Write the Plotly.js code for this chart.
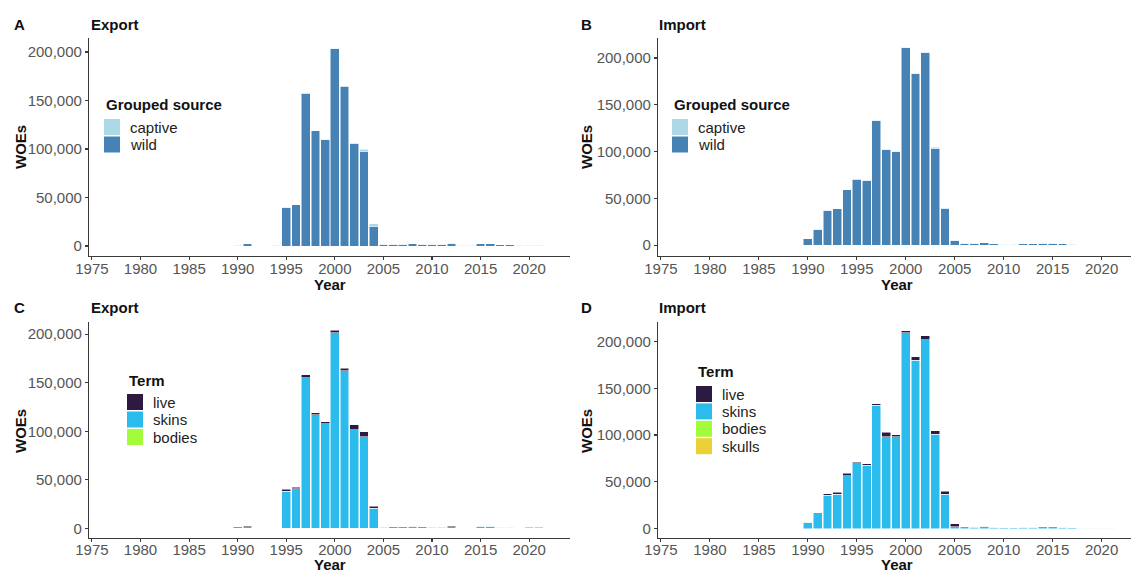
<!DOCTYPE html>
<html>
<head>
<meta charset="utf-8">
<script src="https://cdn.plot.ly/plotly-3.0.1.min.js"></script>
<style>html,body{margin:0;padding:0;background:#fff}</style>
</head>
<body>
<div id="chart" style="width:1131px;height:572px"></div>
<script>
// ---------- data ----------
const years = [1990,1991,1992,1993,1994,1995,1996,1997,1998,1999,2000,2001,2002,2003,2004,2005,2006,2007,2008,2009,2010,2011,2012,2013,2014,2015,2016,2017,2018,2019,2020,2021];

// Panel A: Export by grouped source
const exportWild    = [700,2300,100,100,600,39900,42300,157600,118600,109700,203300,164500,105500,97700,20600,1400,1700,1700,2100,1700,1300,1300,2400,400,400,2100,2100,1100,1100,400,700,700];
const exportCaptive = [300,200,200,200,100,300,300,400,300,300,500,500,1000,2000,2400,300,300,300,300,300,400,400,300,300,300,300,300,300,300,300,300,300];

// Panel B: Import by grouped source
const importWild    = [6800,16900,37200,38600,58900,70600,69200,133300,102400,99900,211000,183200,206000,103500,38900,5000,1900,1600,2300,1200,500,500,1200,1200,1900,1900,1200,800,100,50,50,50];
const importCaptive = [0,200,200,300,300,300,300,400,300,300,400,400,400,1000,1000,300,200,200,200,200,200,200,200,200,200,200,200,200,300,250,250,250];

// Panel C: Export by term
const exportLive   = [700,2000,100,100,100,1700,1700,2700,2000,2000,2400,2700,5100,5100,2000,200,200,200,200,400,400,400,700,400,400,200,200,300,300,300,400,400];
const exportSkins  = [300,500,200,200,600,38500,40900,155300,116900,108000,201400,162300,101400,94600,21000,1500,1800,1800,2200,1600,1300,1300,2000,300,300,2200,2200,1100,1100,400,600,600];
const exportBodies = [0,0,0,0,0,0,0,0,0,0,0,0,0,0,0,0,0,0,0,0,0,0,0,0,0,0,0,0,0,0,0,0];

// Panel D: Import by term
const importLive   = [0,1400,1800,2500,2500,1800,1800,2100,4300,1800,1800,3600,4300,3900,3200,3600,300,200,300,200,100,100,200,200,200,200,100,100,100,100,100,100];
const importSkins  = [6800,15700,35600,36400,56700,69100,67700,131600,98400,98400,209600,180000,202100,100600,36700,1700,1800,1600,2200,1200,600,600,1200,1200,1900,1900,1300,900,300,200,200,200];
const importBodies = [0,0,0,0,0,0,0,0,0,0,0,0,0,0,0,0,0,0,0,0,0,0,0,0,0,0,0,0,0,0,0,0];
const importSkulls = [0,0,0,0,0,0,0,0,0,0,0,0,0,0,0,0,0,0,0,0,0,0,0,0,0,0,0,0,0,0,0,0];

const yTickVals = [0,50000,100000,150000,200000];
const xTickVals = [1975,1980,1985,1990,1995,2000,2005,2010,2015,2020];

// ---------- styling ----------
const W = 1131, H = 572;
const FONT = 'Liberation Sans, Arial, Helvetica, sans-serif';
const col = {wild:'#4682B4', captive:'#ADD8E6', live:'#2E1A40', skins:'#2BBBEC', bodies:'#A2FC3C', skulls:'#EDCF3A'};
const px = x => x / W;
const py = y => 1 - y / H;

function bar(name, y, color, xa, ya) {
  return {
    type:'bar', name:name, x:years, y:y, xaxis:xa, yaxis:ya, width:0.9,
    marker:{color:color, line:{color:'rgba(255,255,255,0.65)', width:0.8}},
    showlegend:false, hoverinfo:'x+y+name'
  };
}

const traces = [
  bar('wild', exportWild, col.wild, 'x', 'y'),
  bar('captive', exportCaptive, col.captive, 'x', 'y'),
  bar('wild', importWild, col.wild, 'x2', 'y2'),
  bar('captive', importCaptive, col.captive, 'x2', 'y2'),
  bar('bodies', exportBodies, col.bodies, 'x3', 'y3'),
  bar('skins', exportSkins, col.skins, 'x3', 'y3'),
  bar('live', exportLive, col.live, 'x3', 'y3'),
  bar('skulls', importSkulls, col.skulls, 'x4', 'y4'),
  bar('bodies', importBodies, col.bodies, 'x4', 'y4'),
  bar('skins', importSkins, col.skins, 'x4', 'y4'),
  bar('live', importLive, col.live, 'x4', 'y4')
];

function makeX(domain, range, anchor, standoff) {
  return {
    domain:domain, range:range, anchor:anchor, tickmode:'array', tickvals:xTickVals,
    showline:true, linecolor:'#3a3a3a', linewidth:1.1, ticks:'outside', ticklen:3, tickwidth:1.1, tickcolor:'#3a3a3a',
    ticklabelstandoff:standoff,
    showgrid:false, zeroline:false, tickfont:{family:FONT, size:15, color:'#555555'}, fixedrange:true
  };
}
function makeY(domain, range, anchor) {
  return {
    domain:domain, range:range, anchor:anchor, tickmode:'array', tickvals:yTickVals, tickformat:',d',
    showline:true, linecolor:'#3a3a3a', linewidth:1.1, ticks:'outside', ticklen:3, tickwidth:1.1, tickcolor:'#3a3a3a',
    showgrid:false, zeroline:false, tickfont:{family:FONT, size:15, color:'#555555'}, fixedrange:true
  };
}

const domLeft = [px(89), px(570)], domRight = [px(658), 1];
const domTop = [py(256), py(38)], domBottom = [py(537.5), py(321.5)];

const annotations = [];
function ann(text, x, y, opts) {
  annotations.push(Object.assign({
    text:text, x:px(x), y:py(y), xref:'paper', yref:'paper', showarrow:false,
    xanchor:'left', yanchor:'middle', font:{family:FONT, size:15, color:'#111111'}
  }, opts || {}));
}
const bold = t => '<b>' + t + '</b>';

// panel tags and titles
ann(bold('A'), 19, 24, {xanchor:'center'});
ann(bold('Export'), 89, 24);
ann(bold('B'), 586, 24, {xanchor:'center'});
ann(bold('Import'), 657, 24);
ann(bold('C'), 19, 307.5, {xanchor:'center'});
ann(bold('Export'), 89, 307.5);
ann(bold('D'), 586, 307.5, {xanchor:'center'});
ann(bold('Import'), 657, 307.5);
// axis titles
[[20,147],[586,147],[20,431],[586,431]].forEach(p => ann(bold('WOEs'), p[0], p[1], {xanchor:'center', textangle:-90}));
[[330,284],[897,284],[330,564],[897,564]].forEach(p => ann(bold('Year'), p[0], p[1], {xanchor:'center', borderpad:0}));

// manual legends (ggplot style keys)
const shapes = [];
function legend(title, x, yTitle, items, yFirst, step) {
  ann(bold(title), x, yTitle);
  items.forEach((it, i) => {
    const yc = yFirst + i * step;
    shapes.push({type:'rect', xref:'paper', yref:'paper', x0:px(x), x1:px(x+16), y0:py(yc+8), y1:py(yc-8),
      fillcolor:it[1], line:{width:0}});
    ann(it[0], x + 24, yc, {font:{family:FONT, size:15, color:'#222222'}});
  });
}
legend('Grouped source', 104, 104, [['captive', col.captive], ['wild', col.wild]], 127, 17.5);
legend('Grouped source', 672, 104, [['captive', col.captive], ['wild', col.wild]], 127, 17.5);
legend('Term', 127, 380, [['live', col.live], ['skins', col.skins], ['bodies', col.bodies]], 402, 17.5);
legend('Term', 696, 371, [['live', col.live], ['skins', col.skins], ['bodies', col.bodies], ['skulls', col.skulls]], 394, 17.4);

const layout = {
  width:W, height:H, margin:{l:0, r:0, t:0, b:0}, paper_bgcolor:'#ffffff', plot_bgcolor:'rgba(0,0,0,0)',
  barmode:'stack', bargap:0, showlegend:false, font:{family:FONT},
  xaxis: makeX(domLeft, [1974.7, 2024.2], 'y', -4),
  yaxis: makeY(domTop, [-10300, 214400], 'x'),
  xaxis2: makeX(domRight, [1974.7, 2023.0], 'y2', -4),
  yaxis2: makeY(domTop, [-11700, 221400], 'x2'),
  xaxis3: makeX(domLeft, [1974.7, 2024.2], 'y3', -5),
  yaxis3: makeY(domBottom, [-9300, 213000], 'x3'),
  xaxis4: makeX(domRight, [1974.7, 2023.0], 'y4', -5),
  yaxis4: makeY(domBottom, [-9600, 221400], 'x4'),
  annotations:annotations, shapes:shapes
};

Plotly.newPlot('chart', traces, layout, {displayModeBar:false, staticPlot:true});
</script>
</body>
</html>
